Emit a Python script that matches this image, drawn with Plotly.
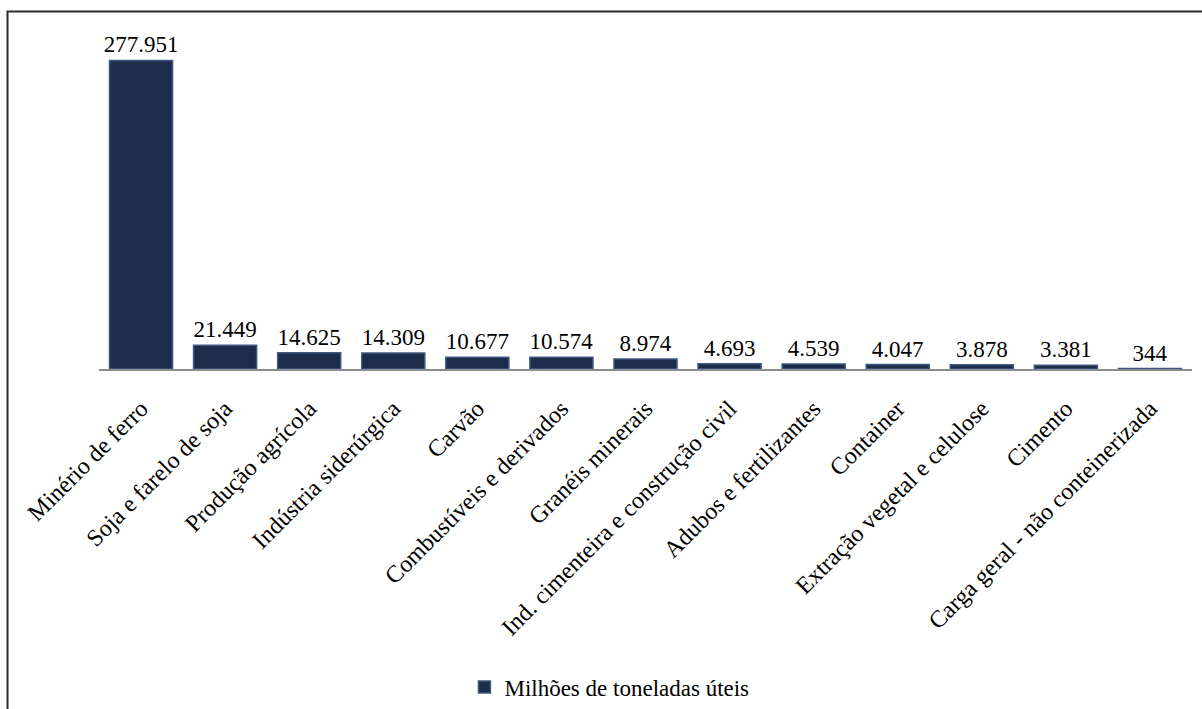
import plotly.graph_objects as go

categories = ["Minério de ferro", "Soja e farelo de soja", "Produção agrícola",
              "Indústria siderúrgica", "Carvão", "Combustíveis e derivados",
              "Granéis minerais", "Ind. cimenteira e construção civil",
              "Adubos e fertilizantes", "Container", "Extração vegetal e celulose",
              "Cimento", "Carga geral - não conteinerizada"]
values = [277951, 21449, 14625, 14309, 10677, 10574, 8974, 4693, 4539, 4047, 3878, 3381, 344]
series_name = "Milhões de toneladas úteis"

FONT = "'Liberation Serif', 'Times New Roman', serif"

fig = go.Figure()
fig.add_trace(go.Bar(
    x=categories, y=values, name=series_name,
    marker=dict(color="#1b2d4a", line=dict(color="#3f5a7e", width=1.5)),
    text=values, texttemplate="%{y:,}", textposition="outside",
    textfont=dict(family=FONT, size=23, color="#000000"),
    constraintext="none",
    cliponaxis=False, showlegend=True,
))

fig.update_layout(
    width=1202, height=709,
    margin=dict(l=99, r=10, t=36, b=340, autoexpand=False),
    paper_bgcolor="white", plot_bgcolor="white",
    separators=",.",
    bargap=0.25,
    font=dict(family=FONT, size=22, color="#000000"),
    xaxis=dict(tickangle=-45, showgrid=False, showline=True, linecolor="#8c8c8c",
               linewidth=2, ticks="", automargin=False, ticklabelstandoff=14,
               tickfont=dict(family=FONT, size=24)),
    yaxis=dict(range=[0, 300000], visible=False, automargin=False),
    legend=dict(orientation="h", x=0.467, xanchor="center", y=-0.955, yanchor="middle",
                font=dict(family=FONT, size=23, color="#000000"), itemwidth=30),
    shapes=[dict(type="rect", xref="paper", yref="paper",
                 x0=-0.0837, x1=1.2, y0=-1.3, y1=1.0736,
                 line=dict(color="#2b2b2b", width=2), fillcolor="rgba(0,0,0,0)", layer="below")],
)

fig.write_html("out.html")
